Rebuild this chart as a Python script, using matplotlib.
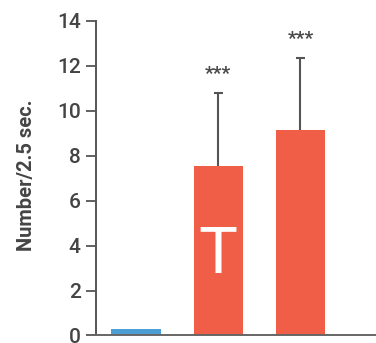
import matplotlib
matplotlib.use("Agg")
import matplotlib.pyplot as plt

plt.rcParams["font.family"] = ["Roboto", "DejaVu Sans"]

groups = ["control", "T", "T2"]
means = [0.27, 7.53, 9.14]
errors = [0.0, 3.27, 3.2]
bar_colors = ["#4b9dd4", "#f15e48", "#f15e48"]
signif = ["", "***", "***"]
yticks = [0, 2, 4, 6, 8, 10, 12, 14]

fig = plt.figure(figsize=(3.76, 3.43), dpi=100)
ax = fig.add_axes([0.255, 0.022, 0.745, 0.917])

x = list(range(len(groups)))
ax.bar(x, means, width=0.6, color=bar_colors, zorder=2)

# upper-only error bars with a cap at the top
cap = 0.055
for xi, m, e in zip(x, means, errors):
    if e > 0:
        ax.vlines(xi, m, m + e, color="#555555", linewidth=1.5, zorder=3)
        ax.hlines(m + e, xi - cap, xi + cap, color="#555555", linewidth=1.5,
                  zorder=3)

for xi, m, e, s in zip(x, means, errors, signif):
    if s:
        ax.text(xi, m + e + 0.85, s, ha="center", va="center", fontsize=14,
                color="#4a4a4a", fontweight="bold")

ax.text(1, 2.8, "T", ha="center", va="baseline", color="white", fontsize=47,
        fontweight="normal", zorder=4)

ax.set_xlim(-0.49, 2.92)
ax.set_ylim(0, 14)
ax.set_yticks(yticks)
ax.set_xticks([])
ax.tick_params(axis="y", direction="out", length=7, width=1.3,
               color="#555555", labelsize=15, labelcolor="#444444", pad=4)
for lab in ax.get_yticklabels():
    lab.set_fontweight("medium")
for side in ["top", "right"]:
    ax.spines[side].set_visible(False)
ax.spines["left"].set_color("#555555")
ax.spines["left"].set_linewidth(1.4)
ax.spines["bottom"].set_color("#666666")
ax.spines["bottom"].set_linewidth(1.4)
ax.set_ylabel("Number/2.5 sec.", fontsize=14.5, color="#444444",
              fontweight="bold")
ax.yaxis.set_label_coords(-0.215, 0.51)

fig.savefig("out.png", dpi=100)
